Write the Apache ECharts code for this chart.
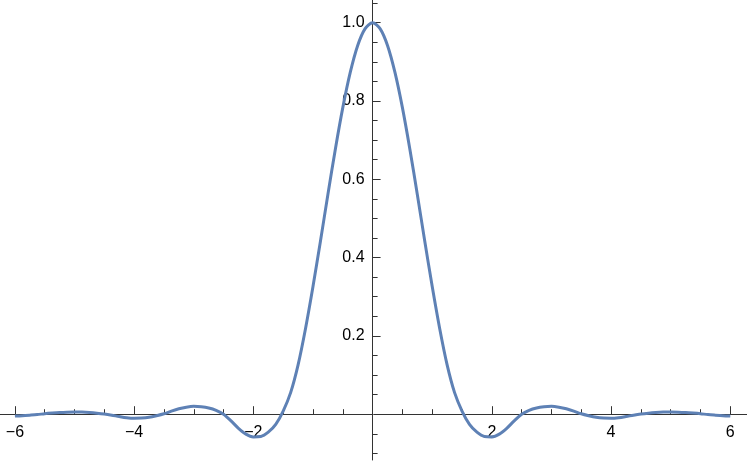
<!DOCTYPE html>
<html>
<head>
<meta charset="utf-8">
<script src="https://cdn.jsdelivr.net/npm/echarts@6/dist/echarts.min.js"></script>
<style>
html, body { margin: 0; padding: 0; background: #fff; }
#chart { width: 747px; height: 463px; }
</style>
</head>
<body>
<div id="chart"></div>
<script>
// sample positions (step 0.125) and curve values
var xs = [-6, -5.875, -5.75, -5.625, -5.5, -5.375, -5.25, -5.125, -5, -4.875, -4.75, -4.625, -4.5, -4.375, -4.25, -4.125,
	-4, -3.875, -3.75, -3.625, -3.5, -3.375, -3.25, -3.125, -3, -2.875, -2.75, -2.625, -2.5, -2.375, -2.25, -2.125,
	-2, -1.875, -1.75, -1.625, -1.5, -1.375, -1.25, -1.125, -1, -0.875, -0.75, -0.625, -0.5, -0.375, -0.25, -0.125,
	0, 0.125, 0.25, 0.375, 0.5, 0.625, 0.75, 0.875, 1, 1.125, 1.25, 1.375, 1.5, 1.625, 1.75, 1.875,
	2, 2.125, 2.25, 2.375, 2.5, 2.625, 2.75, 2.875, 3, 3.125, 3.25, 3.375, 3.5, 3.625, 3.75, 3.875,
	4, 4.125, 4.25, 4.375, 4.5, 4.625, 4.75, 4.875, 5, 5.125, 5.25, 5.375, 5.5, 5.625, 5.75, 5.875, 6];
var ys = [-0.0046, -0.0038, -0.0025, -0.0010, 0.0012, 0.0029, 0.0043, 0.0052, 0.0056, 0.0053, 0.0043, 0.0027, 0.0005, -0.0025, -0.0060, -0.0090,
	-0.0104, -0.0100, -0.0080, -0.0040, 0.0010, 0.0080, 0.0140, 0.0180, 0.0200, 0.0190, 0.0160, 0.0100, 0, -0.0170, -0.0360, -0.0510,
	-0.0580, -0.0570, -0.0460, -0.0260, 0.0080, 0.0550, 0.1260, 0.2190, 0.3260, 0.4420, 0.5610, 0.6770, 0.7830, 0.8730, 0.9420, 0.9850,
	1, 0.9850, 0.9420, 0.8730, 0.7830, 0.6770, 0.5610, 0.4420, 0.3260, 0.2190, 0.1260, 0.0550, 0.0080, -0.0260, -0.0460, -0.0570,
	-0.0580, -0.0510, -0.0360, -0.0170, 0, 0.0100, 0.0160, 0.0190, 0.0200, 0.0180, 0.0140, 0.0080, 0.0010, -0.0040, -0.0080, -0.0100,
	-0.0104, -0.0090, -0.0060, -0.0025, 0.0005, 0.0027, 0.0043, 0.0053, 0.0056, 0.0052, 0.0043, 0.0029, 0.0012, -0.0010, -0.0025, -0.0038, -0.0046];

var xMajor = [-6, -4, -2, 2, 4, 6];
var xMinor = [-5.5, -5, -4.5, -3.5, -3, -2.5, -1.5, -1, -0.5, 0.5, 1, 1.5, 2.5, 3, 3.5, 4.5, 5, 5.5];
var yMajor = [0.2, 0.4, 0.6, 0.8, 1.0];
var yMinor = [-0.1, -0.05, 0.05, 0.1, 0.15, 0.25, 0.3, 0.35, 0.45, 0.5, 0.55, 0.65, 0.7, 0.75, 0.85, 0.9, 0.95, 1.05];

var xMin = -6.25, xMax = 6.28, yMin = -0.117, yMax = 1.058;
var axisColor = '#333';
var labelFont = { color: '#000', fontSize: 16, fontFamily: 'Liberation Sans, Arial, sans-serif' };

var points = [];
for (var i = 0; i < xs.length; i++) {
	points.push([xs[i], ys[i]]);
}

function fmtX(v) {
	return v < 0 ? '\u2212' + Math.abs(v) : String(v);
}

var chart = echarts.init(document.getElementById('chart'));
// grid 0: the curve, axis lines on zero, minor ticks
chart.setOption({
	animation: false,
	grid: [{ left: 0, right: 0, top: 0, bottom: 3, outerBoundsMode: 'none' }],
	xAxis: [{
		type: 'value', min: xMin, max: xMax, gridIndex: 0,
		axisLine: { onZero: true, lineStyle: { color: axisColor, width: 1 } },
		axisTick: { inside: true, length: 5, customValues: xMinor, lineStyle: { color: axisColor } },
		axisLabel: { show: false },
		splitLine: { show: false }
	}],
	yAxis: [{
		type: 'value', min: yMin, max: yMax, gridIndex: 0,
		axisLine: { onZero: true, lineStyle: { color: axisColor, width: 1 } },
		axisTick: { inside: true, length: 5, customValues: yMinor, lineStyle: { color: axisColor } },
		axisLabel: { show: false },
		splitLine: { show: false }
	}],
	series: [{
		type: 'line',
		data: points,
		smooth: 0.3,
		symbol: 'none',
		lineStyle: { color: '#5E81B5', width: 3 }
	}]
});

// where the zero lines fall, so the labelled axes can sit on them
var origin = chart.convertToPixel({ gridIndex: 0 }, [0, 0]);
var H = chart.getHeight();

chart.setOption({
	grid: [
		{ left: 0, right: 0, top: 0, bottom: 3, outerBoundsMode: 'none' },
		{ left: 0, right: 0, top: 0, bottom: H - origin[1], outerBoundsMode: 'none' },
		{ left: origin[0], right: 0, top: 0, bottom: 3, outerBoundsMode: 'none' }
	],
	xAxis: [{}, {
		type: 'value', min: xMin, max: xMax, gridIndex: 1, position: 'bottom',
		axisLine: { show: false, onZero: false },
		axisTick: { inside: true, length: 8, customValues: xMajor, lineStyle: { color: axisColor } },
		axisLabel: Object.assign({ customValues: xMajor, margin: 10, formatter: fmtX }, labelFont),
		splitLine: { show: false }
	}, {
		type: 'value', min: xMin, max: xMax, gridIndex: 2, show: false
	}],
	yAxis: [{}, {
		type: 'value', min: yMin, max: yMax, gridIndex: 1, show: false
	}, {
		type: 'value', min: yMin, max: yMax, gridIndex: 2, position: 'left',
		axisLine: { show: false, onZero: false },
		axisTick: { inside: true, length: 8, customValues: yMajor, lineStyle: { color: axisColor } },
		axisLabel: Object.assign({ customValues: yMajor, margin: 8, formatter: function(v) { return v.toFixed(1); } }, labelFont),
		splitLine: { show: false }
	}]
});
</script>
</body>
</html>
